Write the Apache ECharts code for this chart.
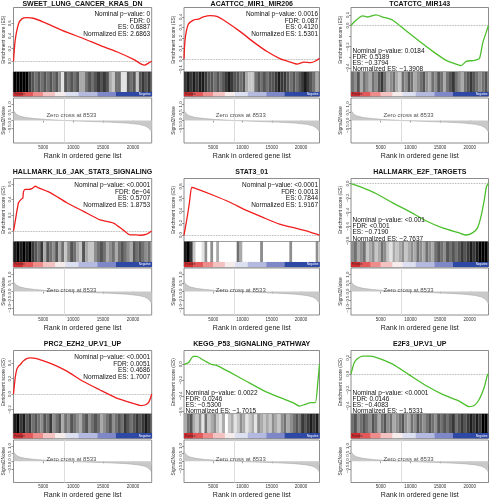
<!DOCTYPE html>
<html><head><meta charset="utf-8">
<script src="https://cdn.jsdelivr.net/npm/echarts@6/dist/echarts.min.js"></script>
<style>html,body{margin:0;padding:0;background:#fff}#c{width:490px;height:500px}</style>
</head><body><div id="c"></div>
<script>
// ---------------- data ----------------
const N_GENES = 23150;
const ZERO_CROSS = 8533;
const HIT_BIN = 500;

const panelTitles = ['SWEET_LUNG_CANCER_KRAS_DN','ACATTCC_MIR1_MIR206','TCATCTC_MIR143',
  'HALLMARK_IL6_JAK_STAT3_SIGNALING','STAT3_01','HALLMARK_E2F_TARGETS',
  'PRC2_EZH2_UP.V1_UP','KEGG_P53_SIGNALING_PATHWAY','E2F3_UP.V1_UP'];
const nominalP = ['0','0.0016','0.0184','<0.0001','<0.0001','<0.001','<0.0001','0.0022','<0.0001'];
const fdrValues = ['0','0.087','0.5189','6e\u221204','0.0013','<0.001','0.0051','0.0246','0.0146'];
const esValues = ['0.6887','0.4120','\u22120.3794','0.5707','0.7844','\u22120.7190','0.4686','\u22120.5300','\u22120.4083'];
const nesValues = ['2.6863','1.5301','\u22121.3908','1.8753','1.9167','\u22122.7637','1.7007','\u22121.7015','\u22121.5331'];
const isPositive = [true,true,false,true,true,false,true,false,false];

const esCurve1 = [[0,0],[280,0.33],[840,0.59],[1400,0.67],[2200,0.689],[3350,0.68],[5000,0.62],[8900,0.46],[11700,0.36],[14500,0.25],[17300,0.15],[20100,0.03],[21500,-0.05],[22000,-0.06],[22600,-0.03],[23150,0]];
const esCurve2 = [[0,0],[110,0.13],[290,0.23],[740,0.33],[1600,0.37],[2460,0.38],[3320,0.40],[4460,0.412],[5600,0.405],[7320,0.35],[9610,0.26],[11900,0.16],[14190,0.07],[16470,0.0],[18190,-0.03],[19330,-0.05],[20480,-0.03],[21620,-0.035],[22480,-0.02],[23150,0.005]];
const esCurve3 = [[0,0],[840,0.05],[1970,0.09],[2810,0.08],[4215,0.10],[5340,0.08],[7025,0.05],[9270,-0.05],[11520,-0.15],[13770,-0.245],[16020,-0.33],[17420,-0.36],[18550,-0.379],[19390,-0.34],[20800,-0.33],[21640,-0.31],[22200,-0.16],[22760,-0.065],[23150,0]];
const esCurve4 = [[0,0],[170,0.07],[450,0.20],[840,0.36],[1230,0.40],[1560,0.42],[1670,0.50],[1950,0.53],[2510,0.53],[3070,0.54],[3630,0.571],[4190,0.55],[6140,0.49],[8930,0.36],[11720,0.25],[14510,0.14],[16740,0.10],[18410,0.01],[19530,-0.05],[20650,-0.05],[21200,-0.055],[22320,-0.04],[23150,0]];
const esCurve5 = [[0,0],[450,0.24],[910,0.52],[1300,0.784],[1590,0.78],[4990,0.655],[7830,0.54],[10660,0.405],[13490,0.29],[16330,0.18],[19160,0.11],[21430,0.055],[23150,0]];
const esCurve6 = [[0,0],[1400,-0.04],[4200,-0.14],[7000,-0.27],[9810,-0.39],[12610,-0.52],[15410,-0.62],[18220,-0.69],[19340,-0.719],[20460,-0.69],[21300,-0.62],[21860,-0.47],[22420,-0.24],[22810,-0.04],[23150,0]];
const esCurve7 = [[0,0],[280,0.21],[550,0.32],[830,0.36],[1110,0.38],[1660,0.43],[2220,0.46],[2770,0.4686],[3880,0.46],[6090,0.40],[8860,0.30],[11630,0.165],[14400,0.055],[17170,-0.05],[19940,-0.12],[21330,-0.15],[22160,-0.14],[22710,-0.10],[23150,0]];
const esCurve8 = [[0,0],[740,0.02],[1590,0.10],[2160,0.10],[3290,0.054],[4710,0.0],[5560,-0.013],[7830,-0.10],[10660,-0.215],[13500,-0.33],[16330,-0.42],[18600,-0.485],[19730,-0.53],[20580,-0.51],[21720,-0.485],[22450,-0.485],[22850,-0.24],[23150,0]];
const esCurve9 = [[0,0],[560,0.14],[1120,0.19],[1960,0.22],[3080,0.22],[4200,0.205],[7010,0.12],[9810,-0.013],[12610,-0.145],[15410,-0.255],[18220,-0.34],[19900,-0.408],[20740,-0.395],[21580,-0.32],[22420,-0.17],[22980,-0.013],[23150,0]];
const esCurves = [esCurve1,esCurve2,esCurve3,esCurve4,esCurve5,esCurve6,esCurve7,esCurve8,esCurve9];

const esMin = [-0.17,-0.125,-0.44,-0.135,-0.105,-0.81,-0.26,-0.63,-0.50];
const esMax = [0.85,0.49,0.17,0.67,0.93,0.07,0.565,0.175,0.29];
const esTicks1 = [0,0.2,0.4,0.6];
const esTicks2 = [-0.1,0,0.1,0.2,0.3,0.4];
const esTicks3 = [-0.4,-0.3,-0.2,-0.1,0,0.1];
const esTicks4 = [0,0.2,0.4,0.6];
const esTicks5 = [0,0.2,0.4,0.6,0.8];
const esTicks6 = [-0.8,-0.6,-0.4,-0.2,0];
const esTicks7 = [-0.2,0,0.2,0.4];
const esTicks8 = [-0.6,-0.4,-0.2,0];
const esTicks9 = [-0.4,-0.2,0,0.2];
const esTickList = [esTicks1,esTicks2,esTicks3,esTicks4,esTicks5,esTicks6,esTicks7,esTicks8,esTicks9];
const esLabelList = [esTicks1,esTicks2,[-0.4,-0.2,0,0.1],esTicks4,esTicks5,esTicks6,esTicks7,esTicks8,esTicks9];

// hit density per 500-rank bin (0 = none, 9 = black)
const hits1 = [9,9,9,9,9,7,6,5,6,5,6,5,6,5,6,4,1,6,5,6,5,6,3,3,5,6,5,6,7,6,7,6,3,2,5,5,1,1,6,5,6,2,6,7,6,7,6];
const hits2 = [7,8,7,8,7,8,8,7,6,6,5,6,5,6,7,8,7,6,6,5,6,3,2,2,5,6,5,6,5,6,6,7,8,7,7,6,5,6,5,6,7,8,7,6,5,3,6];
const hits3 = [5,4,6,3,5,4,3,5,4,6,7,5,3,4,5,3,2,5,4,6,5,3,4,5,6,4,3,5,4,6,5,3,5,6,7,5,4,3,5,6,7,6,5,4,5,6,5];
const hits4 = [8,9,8,9,8,9,7,6,5,7,3,6,5,4,6,3,5,2,4,6,5,3,2,6,3,2,2,4,5,6,5,3,4,5,3,5,6,5,4,3,6,5,6,5,4,5,3];
const hits5 = [8,9,7,2,0,0,1,4,0,4,0,3,0,0,0,0,0,0,5,3,0,0,0,0,0,0,4,0,0,0,0,0,0,0,0,0,4,0,0,0,0,0,0,0,0,4,0];
const hits6 = [4,5,3,4,5,2,3,4,2,3,5,4,2,1,3,2,3,4,2,3,4,3,5,4,3,5,4,3,5,6,5,4,6,5,6,5,6,7,6,7,8,7,8,9,9,9,9];
const hits7 = [8,9,7,8,6,7,5,6,5,4,6,5,7,4,5,6,3,5,4,6,5,4,3,5,6,4,5,6,5,3,4,5,6,4,5,6,5,7,6,5,6,7,6,7,8,7,6];
const hits8 = [3,5,6,3,2,4,1,5,2,3,4,2,1,3,0,2,3,1,2,4,3,1,2,3,1,4,3,2,3,2,4,3,2,4,5,3,4,5,6,5,7,6,7,8,7,8,6];
const hits9 = [5,6,4,5,6,5,4,6,5,3,5,6,4,5,3,4,5,6,4,3,5,4,6,5,4,5,6,5,4,6,5,6,5,6,7,5,6,7,6,7,8,7,8,7,9,9,7];
const hitList = [hits1,hits2,hits3,hits4,hits5,hits6,hits7,hits8,hits9];

const colorBreaks = [0,1590,3290,4990,6980,8700,10900,14060,17170,23150];
const colorBarColors = ['#d42a2e','#e35858','#ee8c8c','#f5c2c2','#f6ecec','#dde0f1','#b4b9e0','#7e88c8','#2e48a6'];

const metricCurve = [[0,0.62],[150,0.5],[500,0.38],[1000,0.28],[2000,0.19],[3500,0.12],[5500,0.06],[8533,0],[12000,-0.05],[16000,-0.1],[19000,-0.16],[21000,-0.24],[22000,-0.33],[22600,-0.45],[23000,-0.62],[23150,-0.75]];
const metricTicks = [-1,-0.5,0,0.5,1];
const rankTicks = [5000,10000,15000,20000];
const zeroTextPos = [[9700,0.3],[9700,0.05],[9700,0.1]];

// ---------------- layout ----------------
const colL = [13.3, 184, 351];
const colR = [151.7, 319.5, 488.5];
const rowLayout = [
  {title:4.5, esT:7.5, esB:72, hB:92, cB:96.5, bT:98, bB:143},
  {title:172, esT:178.5, esB:241.5, hB:262, cB:267, bT:268, bB:315},
  {title:344.5, esT:350.5, esB:414, hB:433, cB:438.5, bT:440, bB:487}
];
const FONT = '"Liberation Sans", Arial, Helvetica, sans-serif';
const fmt1 = v => (v < 0 ? '\u2212' : '') + Math.abs(v).toFixed(1);

const grids=[], xAxes=[], yAxes=[], series=[], graphics=[];
const border = {show:true, borderColor:'#707070', borderWidth:0.8, backgroundColor:'#fff'};

for (let p=0; p<9; p++) {
  const r = rowLayout[Math.floor(p/3)], c = p%3;
  const L = colL[c], W = colR[c]-colL[c];
  const gi = grids.length;
  grids.push(Object.assign({left:L, top:r.esT, width:W, height:r.esB-r.esT}, border));
  grids.push(Object.assign({left:L, top:r.esB, width:W, height:r.hB-r.esB}, border));
  grids.push(Object.assign({left:L, top:r.hB, width:W, height:r.cB-r.hB}, border));
  grids.push(Object.assign({left:L, top:r.bT, width:W, height:r.bB-r.bT}, border));
  for (let k=0;k<3;k++) xAxes.push({type:'value', gridIndex:gi+k, min:0, max:N_GENES, show:false});
  xAxes.push({type:'value', gridIndex:gi+3, min:0, max:N_GENES,
    axisLine:{show:false}, splitLine:{show:false},
    axisTick:{show:true, length:2, customValues:rankTicks, lineStyle:{color:'#555', width:0.6}},
    axisLabel:{fontSize:4.5, margin:2, color:'#333', fontFamily:FONT, customValues:rankTicks, formatter:v=>String(v)},
    name:'Rank in ordered gene list', nameLocation:'middle', nameGap:9.5,
    nameTextStyle:{fontSize:7, color:'#222', fontFamily:FONT}});
  yAxes.push({type:'value', gridIndex:gi, min:esMin[p], max:esMax[p],
    axisLine:{show:false}, splitLine:{show:false},
    axisTick:{show:true, length:2, customValues:esTickList[p], lineStyle:{color:'#555', width:0.6}},
    axisLabel:{fontSize:4.3, margin:1.5, rotate:90, color:'#333', fontFamily:FONT, customValues:esLabelList[p], formatter:fmt1},
    name:'Enrichment score (ES)', nameLocation:'middle', nameGap:7.5, nameRotate:90,
    nameTextStyle:{fontSize:4.8, color:'#333', fontFamily:FONT}});
  yAxes.push({type:'value', gridIndex:gi+1, min:0, max:1, show:false});
  yAxes.push({type:'value', gridIndex:gi+2, min:0, max:1, show:false});
  yAxes.push({type:'value', gridIndex:gi+3, min:-1.4, max:1.4,
    axisLine:{show:false}, splitLine:{show:false},
    axisTick:{show:true, length:2, customValues:metricTicks, lineStyle:{color:'#555', width:0.6}},
    axisLabel:{fontSize:4.3, margin:1.5, rotate:90, color:'#333', fontFamily:FONT, customValues:metricTicks, formatter:fmt1},
    name:'Signal2Noise', nameLocation:'middle', nameGap:7.5, nameRotate:90,
    nameTextStyle:{fontSize:4.8, color:'#333', fontFamily:FONT}});

  const lineColor = isPositive[p] ? '#f01e1e' : '#4cbf2c';
  series.push({type:'line', xAxisIndex:gi, yAxisIndex:gi, data:esCurves[p], showSymbol:false, smooth:0.2,
    lineStyle:{color:lineColor, width:1.3}, silent:true, z:5,
    markLine:{silent:true, symbol:'none', label:{show:false}, lineStyle:{type:'dotted', color:'#999', width:0.8}, data:[{yAxis:0}]}});
  series.push({type:'custom', xAxisIndex:gi+1, yAxisIndex:gi+1, clip:true, silent:true,
    data: hitList[p].map((d,i)=>[i*HIT_BIN, Math.min((i+1)*HIT_BIN, N_GENES), d]),
    renderItem:(params, api)=>{
      const a = api.coord([api.value(0), 1]); const b = api.coord([api.value(1), 0]);
      const g = Math.round(255 - api.value(2)*255/9);
      return {type:'rect', shape:{x:a[0], y:a[1], width:b[0]-a[0], height:b[1]-a[1]}, style:{fill:`rgb(${g},${g},${g})`}};
    }});
  series.push({type:'custom', xAxisIndex:gi+2, yAxisIndex:gi+2, clip:true, silent:true,
    data: colorBarColors.map((col,i)=>[colorBreaks[i], colorBreaks[i+1], i]),
    renderItem:(params, api)=>{
      const a = api.coord([api.value(0), 1]); const b = api.coord([api.value(1), 0]);
      return {type:'rect', shape:{x:a[0], y:a[1], width:b[0]-a[0]+0.3, height:b[1]-a[1]}, style:{fill:colorBarColors[api.value(2)]}};
    }});
  series.push({type:'line', xAxisIndex:gi+3, yAxisIndex:gi+3, data:metricCurve, showSymbol:false, silent:true, z:2,
    lineStyle:{color:'#a8a8a8', width:0.6}, areaStyle:{color:'#c9c9c9', opacity:1},
    markLine:{silent:true, symbol:'none', label:{show:false}, lineStyle:{type:'solid', color:'#dcdcdc', width:1}, data:[{xAxis:ZERO_CROSS}]}});
  series.push({type:'scatter', xAxisIndex:gi+3, yAxisIndex:gi+3, data:[zeroTextPos[Math.floor(p/3)]], symbolSize:0, silent:true, z:20, zlevel:1,
    label:{show:true, position:'inside', formatter:'Zero cross at ' + ZERO_CROSS, fontSize:6, color:'#222', fontFamily:FONT}});

  // titles & stats
  graphics.push({type:'text', x:(colL[c]+colR[c])/2, y:r.title, silent:true,
    style:{text:panelTitles[p], fontSize:7, fontWeight:'bold', fontFamily:FONT, fill:'#111', align:'center', verticalAlign:'middle'}});
  const stats = 'Nominal p\u2212value: ' + nominalP[p] + '\nFDR: ' + fdrValues[p] + '\nES: ' + esValues[p] + '\nNormalized ES: ' + nesValues[p];
  if (isPositive[p]) {
    graphics.push({type:'text', x:colR[c]-1.5, y:r.esT+3.3, silent:true, z:10,
      style:{text:stats, fontSize:6.5, lineHeight:6.7, fontFamily:FONT, fill:'#111', align:'right', verticalAlign:'top'}});
  } else {
    graphics.push({type:'text', x:colL[c]+1.5, y:r.esB+0.5, silent:true, z:10,
      style:{text:stats, fontSize:6.5, lineHeight:6.2, fontFamily:FONT, fill:'#111', align:'left', verticalAlign:'bottom'}});
  }
  graphics.push({type:'text', x:colL[c]+1, y:(r.hB+r.cB)/2, silent:true, z:10,
    style:{text:'Positive', fontSize:3, fontFamily:FONT, fill:'#333', align:'left', verticalAlign:'middle'}});
  graphics.push({type:'text', x:colR[c]-1, y:(r.hB+r.cB)/2, silent:true, z:10,
    style:{text:'Negative', fontSize:3, fontFamily:FONT, fill:'#fff', align:'right', verticalAlign:'middle'}});
}

const chart = echarts.init(document.getElementById('c'), null, {renderer:'canvas'});
chart.setOption({animation:false, backgroundColor:'#fff', grid:grids, xAxis:xAxes, yAxis:yAxes, series:series, graphic:graphics});
</script>
</body></html>
